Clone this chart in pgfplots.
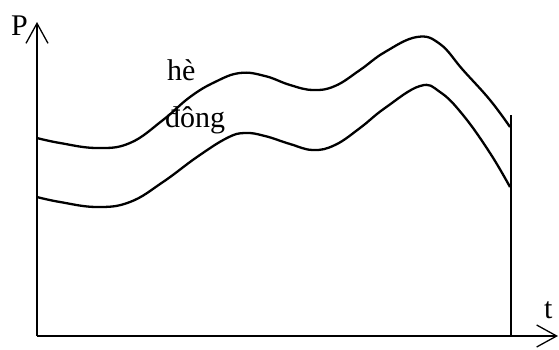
\documentclass[border=0pt]{standalone}
\usepackage{pgfplots}
\pgfplotsset{compat=1.18}
\usepackage{fontspec}
\setmainfont{Liberation Serif}
\usetikzlibrary{arrows.meta}

\begin{document}
\begin{tikzpicture}[x=1pt,y=1pt]
\useasboundingbox (-37,-13) rectangle (522,336);
\begin{axis}[
    anchor=origin,
    at={(0,0)},
    scale only axis,
    width=521pt, height=314pt,
    xmin=0, xmax=521,
    ymin=0, ymax=314,
    axis lines=left,
    axis line style={line width=1.3pt, -{Straight Barb[length=20pt,width=22pt,line width=1.3pt]}},
    xtick=\empty, ytick=\empty,
    clip=false,
]
% mua he
\addplot[black, line width=2.3pt, smooth, tension=0.7] coordinates {
    (0,198) (23,193) (60,188) (93,193) (126,216) (153,239) (178,254)
    (203,263) (228,260) (253,251) (276,246) (298,250) (323,266)
    (348,284) (380,299) (403,292) (426,266) (453,236) (473,209)
};
% mua dong
\addplot[black, line width=2.3pt, smooth, tension=0.7] coordinates {
    (0,139) (23,134) (60,129) (93,134) (126,154) (160,179) (190,198)
    (208,203) (228,200) (253,192) (276,186) (298,191) (323,208)
    (348,228) (383,250) (403,244) (426,221) (453,183) (473,149)
};
% vertical line at end of period
\addplot[black, line width=1.6pt] coordinates {(474,0) (474,221)};

\node[anchor=base west, font=\fontsize{30}{36}\selectfont, inner sep=0pt] at (axis cs:130,256) {hè};
\node[anchor=base west, font=\fontsize{30}{36}\selectfont, inner sep=0pt] at (axis cs:128,209) {đông};
\node[anchor=base west, font=\fontsize{30}{36}\selectfont, inner sep=0pt] at (axis cs:-26,301) {P};
\node[anchor=base west, font=\fontsize{30}{36}\selectfont, inner sep=0pt] at (axis cs:507,18) {t};
\end{axis}
\end{tikzpicture}
\end{document}
